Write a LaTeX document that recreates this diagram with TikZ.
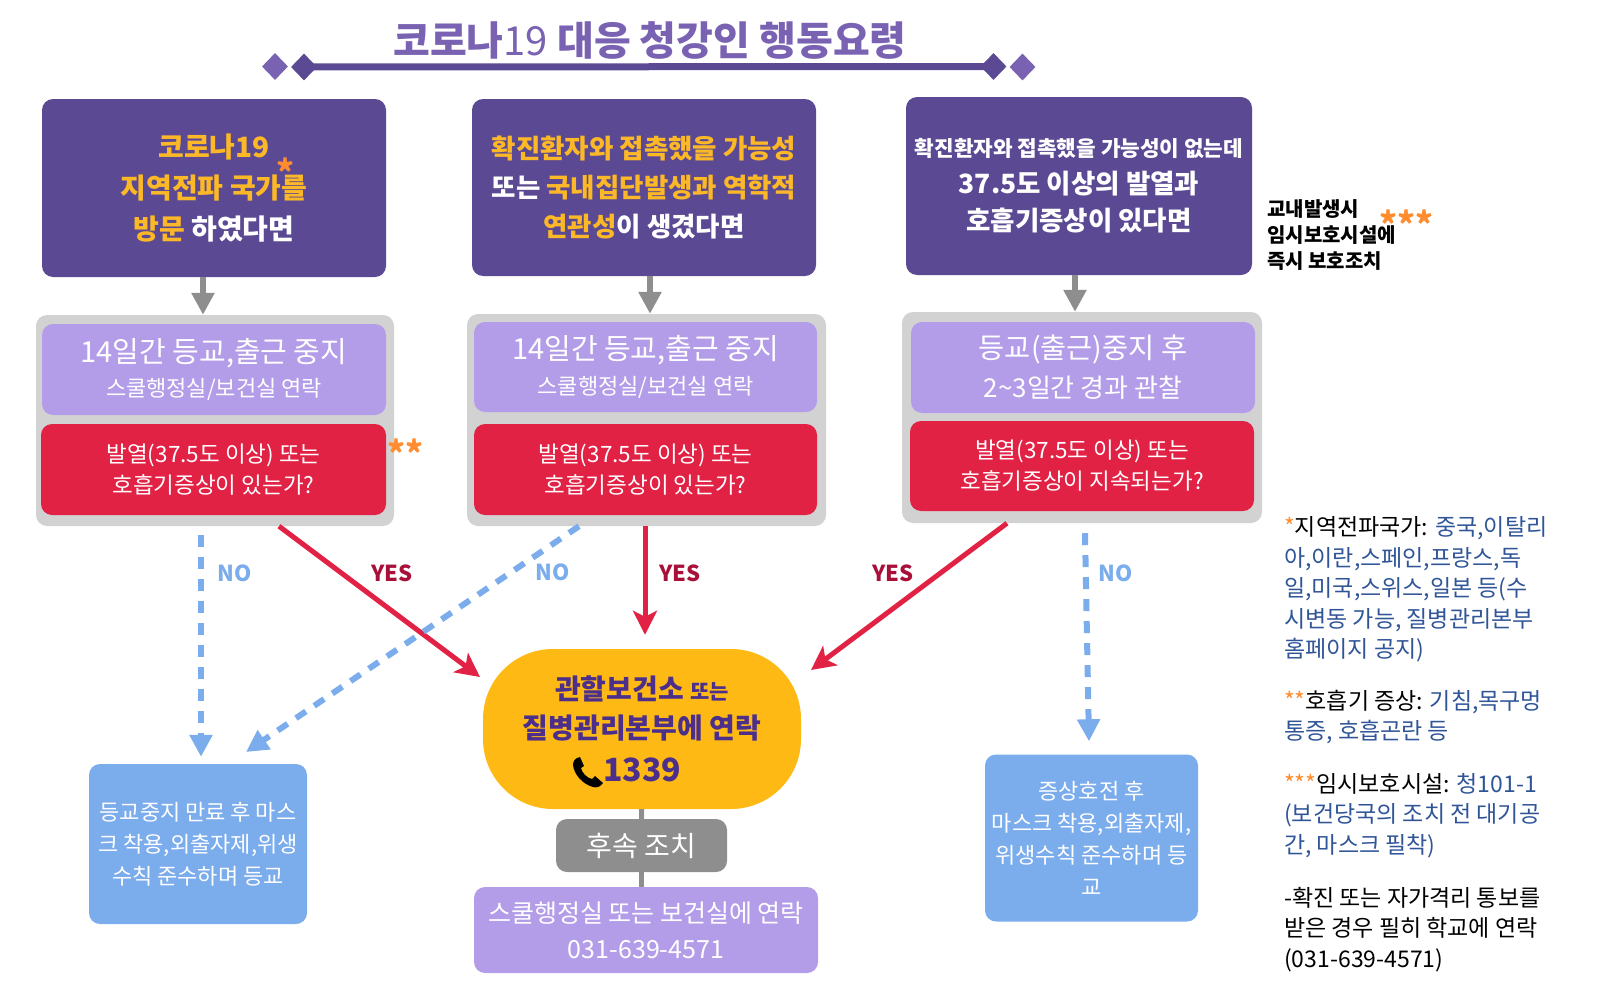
\documentclass[tikz,border=0pt]{standalone}
\usepackage{fontspec}
\setmainfont{Noto Sans CJK KR}
\usetikzlibrary{arrows.meta,shapes.geometric}
\definecolor{DarkPurple}{HTML}{5B4A93}
\definecolor{TitlePurple}{HTML}{7A62B2}
\definecolor{LightPurple}{HTML}{B49DE8}
\definecolor{AlertRed}{HTML}{E22245}
\definecolor{YesRed}{HTML}{A8103A}
\definecolor{CallYellow}{HTML}{FFB915}
\definecolor{TextOrange}{HTML}{FDB827}
\definecolor{StarOrange}{HTML}{FF8C2E}
\definecolor{SkyBlue}{HTML}{7BACEC}
\definecolor{NoteBlue}{HTML}{2F5597}
\definecolor{InkPurple}{HTML}{4B2F8A}
\definecolor{ArrowGrey}{HTML}{8E8E8E}
\definecolor{PanelGrey}{HTML}{D2D2D2}
\newcommand{\fsz}[2]{\fontsize{#1}{#2}\selectfont}
\newcommand{\org}[1]{\textcolor{TextOrange}{#1}}
\newcommand{\nblue}[1]{\textcolor{NoteBlue}{#1}}
\newcommand{\stars}[1]{\textcolor{StarOrange}{#1}}
\tikzset{
  boxbase/.style={rounded corners=11pt,inner sep=0pt,align=center,text=white},
  askbox/.style={boxbase,fill=DarkPurple,font=\fsz{28}{41}\bfseries},
  panelbox/.style={boxbase,fill=PanelGrey},
  stopbox/.style={boxbase,fill=LightPurple},
  feverbox/.style={boxbase,fill=AlertRed,font=\fsz{22.5}{31}},
  okbox/.style={boxbase,fill=SkyBlue,font=\fsz{22}{32}},
  notetext/.style={anchor=west,align=left,inner sep=0pt,font=\fsz{23}{30.5}},
  nolabel/.style={inner sep=0pt,text=SkyBlue,font=\fsz{22}{24}\bfseries},
  yeslabel/.style={inner sep=0pt,text=YesRed,font=\fsz{22}{24}\bfseries},
  stargap/.style={inner sep=0pt,text=StarOrange,font=\fsz{34}{36}\bfseries},
  greyarrow/.style={ArrowGrey,line width=6pt,-{Triangle[length=22pt,width=22pt]}},
  noarrow/.style={SkyBlue,line width=6pt,dash pattern=on 12pt off 10pt,-{Triangle[length=22pt,width=22pt]}},
  yesarrow/.style={AlertRed,line width=5pt,-{Stealth[length=24pt,width=24pt,inset=6pt]}},
  dmd/.style={diamond,aspect=1,inner sep=0pt,minimum width=26pt,minimum height=27pt}
}
\begin{document}
\begin{tikzpicture}[x=1pt,y=-1pt]
  \useasboundingbox (0,0) rectangle (1611,998);

  % Title
  \node[inner sep=0pt,text=TitlePurple,font=\fsz{40}{44}\bfseries] (title) at (650,41) {코로나{\mdseries 19} 대응 청강인 행동요령};
  \node[dmd,fill=TitlePurple] (dmdLL) at (275,66.5) {};
  \node[dmd,fill=DarkPurple] (dmdL) at (304,67) {};
  \node[dmd,fill=DarkPurple] (dmdR) at (993.5,66.5) {};
  \node[dmd,fill=TitlePurple] (dmdRR) at (1022.5,67) {};
  \draw[DarkPurple,line width=7pt] (dmdL.center) -- (dmdR.center);

  % Three questions
  \node[askbox,minimum width=344pt,minimum height=178pt] (ask1) at (214,188)
    {\org{코로나19}\\\org{지역전파 국가를}\\\org{방문} 하였다면};
  \node[askbox,minimum width=344pt,minimum height=177pt,font=\fsz{26.5}{39}\bfseries] (ask2) at (644,187.5)
    {\org{확진환자와 접촉했을 가능성}\\또는 \org{국내집단발생과 역학적}\\\org{연관성}이 생겼다면};
  \node[askbox,minimum width=346pt,minimum height=178pt,font=\fsz{26.5}{37}\bfseries] (ask3) at (1079,186)
    {{\fsz{21.3}{34}확진환자와 접촉했을 가능성이 없는데}\\37.5도 이상의 발열과\\호흡기증상이 있다면};
  \node[stargap] (star1) at (285,172) {*};
  \node[anchor=west,align=left,inner sep=0pt,font=\fsz{20}{26}\bfseries] (campus) at (1267,235) {교내발생시\\임시보호시설에\\즉시 보호조치};
  \node[stargap] (star3) at (1406,224) {***};

  % Panels
  \node[panelbox,minimum width=358pt,minimum height=211pt] (panel1) at (215,420.5) {};
  \node[panelbox,minimum width=359pt,minimum height=212pt] (panel2) at (646.5,420) {};
  \node[panelbox,minimum width=360pt,minimum height=211pt] (panel3) at (1082,417.5) {};

  \node[stopbox,minimum width=344pt,minimum height=91pt] (stop1) at (214,369.5)
    {\fsz{29}{37}14일간 등교,출근 중지\\[10pt]\fsz{22}{37}스쿨행정실/보건실 연락};
  \node[stopbox,minimum width=343pt,minimum height=90pt] (stop2) at (645.5,367)
    {\fsz{29}{37}14일간 등교,출근 중지\\[10pt]\fsz{22}{37}스쿨행정실/보건실 연락};
  \node[stopbox,minimum width=344pt,minimum height=91pt] (stop3) at (1083,367.5)
    {\fsz{28.4}{40}등교(출근)중지 후\\[11pt]\fsz{26}{40}2\textasciitilde 3일간 경과 관찰};

  \node[feverbox,minimum width=345pt,minimum height=91pt] (fever1) at (213.5,469.5) {발열(37.5도 이상) 또는\\호흡기증상이 있는가?};
  \node[feverbox,minimum width=343pt,minimum height=91pt] (fever2) at (645.5,469.5) {발열(37.5도 이상) 또는\\호흡기증상이 있는가?};
  \node[feverbox,minimum width=344pt,minimum height=90pt] (fever3) at (1082,466) {발열(37.5도 이상) 또는\\호흡기증상이 지속되는가?};
  \node[stargap] (star2) at (405,453) {**};

  % Outcomes
  \node[boxbase,rounded corners=70pt,fill=CallYellow,text=InkPurple,minimum width=318pt,minimum height=160pt,font=\fsz{28}{40}\bfseries] (call) at (642,729)
    {관할보건소 {\fsz{21}{40}또는}\\[-1pt]질병관리본부에 연락\\[3pt]{\fsz{32}{40}1339}};
  \node[boxbase,fill=ArrowGrey,minimum width=171pt,minimum height=53pt,font=\fsz{28}{32}] (follow) at (641.5,845.5) {후속 조치};
  \node[stopbox,minimum width=344pt,minimum height=86pt,font=\fsz{25}{36}] (office) at (646,930) {스쿨행정실 또는 보건실에 연락\\031-639-4571};
  \node[okbox,minimum width=218pt,minimum height=160pt] (back1) at (198,844) {등교중지 만료 후 마스\\크 착용,외출자제,위생\\수칙 준수하며 등교};
  \node[okbox,minimum width=213pt,minimum height=167pt] (back2) at (1091.5,838) {증상호전 후\\마스크 착용,외출자제,\\위생수칙 준수하며 등\\교};
  % handset
  \fill[black] (580,757) -- (584,766) -- (581,768) .. controls (582,773) and (587,778) .. (592,779) -- (595,776) -- (603,783)
    .. controls (600,787) and (597,788) .. (593,787) .. controls (582,784) and (574,774) .. (573,765) .. controls (573,761) and (575,758) .. (580,757) -- cycle;

  % Connectors
  \draw[ArrowGrey,line width=5pt] (call) -- (follow);
  \draw[ArrowGrey,line width=5pt] (follow.south) -- (follow.south |- office.north);
  \foreach \i/\sa/\sp in {1/-11/-12,2/6/3.5,3/-4/-7}{
    \draw[greyarrow] ([xshift=\sa pt]ask\i.south) -- ([xshift=\sp pt]panel\i.north);
  }
  \coordinate (tipL) at (480,677);
  \coordinate (tipR) at (811,670);
  \coordinate (tipN) at (246,752);
  \draw[yesarrow] ([xshift=64pt]panel1.south) -- (tipL);
  \draw[yesarrow] ([xshift=-1.5pt]panel2.south) -- ([xshift=3pt,yshift=14pt]call.north);
  \draw[yesarrow] ([xshift=-75pt]panel3.south) -- (tipR);
  \draw[noarrow] ([xshift=-14pt,yshift=-9pt]panel1.south) -- ([xshift=3pt,yshift=7pt]back1.north);
  \draw[noarrow] ([xshift=-67.5pt]panel2.south) -- (tipN);
  \draw[noarrow] ([xshift=3pt,yshift=-10pt]panel3.south) -- ([xshift=-2.5pt,yshift=13pt]back2.north);

  \node[nolabel] (no1) at (235,573) {NO};
  \node[yeslabel] (yes1) at (392,573) {YES};
  \node[nolabel] (no2) at (553,572) {NO};
  \node[yeslabel] (yes2) at (680,573) {YES};
  \node[yeslabel] (yes3) at (893,573) {YES};
  \node[nolabel] (no3) at (1116,573) {NO};

  % Notes
  \node[notetext] (note1) at (1284,589.5) {\stars{*}지역전파국가: \nblue{중국,이탈리}\\\nblue{아,이란,스페인,프랑스,독}\\\nblue{일,미국,스위스,일본 등(수}\\\nblue{시변동 가능, 질병관리본부}\\\nblue{홈페이지 공지)}};
  \node[notetext] (note2) at (1284,717) {\stars{**}호흡기 증상: \nblue{기침,목구멍}\\\nblue{통증, 호흡곤란 등}};
  \node[notetext] (note3) at (1284,815.5) {\stars{***}임시보호시설: \nblue{청101-1}\\\nblue{(보건당국의 조치 전 대기공}\\\nblue{간, 마스크 필착)}};
  \node[notetext] (note4) at (1284,929.5) {-확진 또는 자가격리 통보를\\받은 경우 필히 학교에 연락\\(031-639-4571)};
\end{tikzpicture}
\end{document}
